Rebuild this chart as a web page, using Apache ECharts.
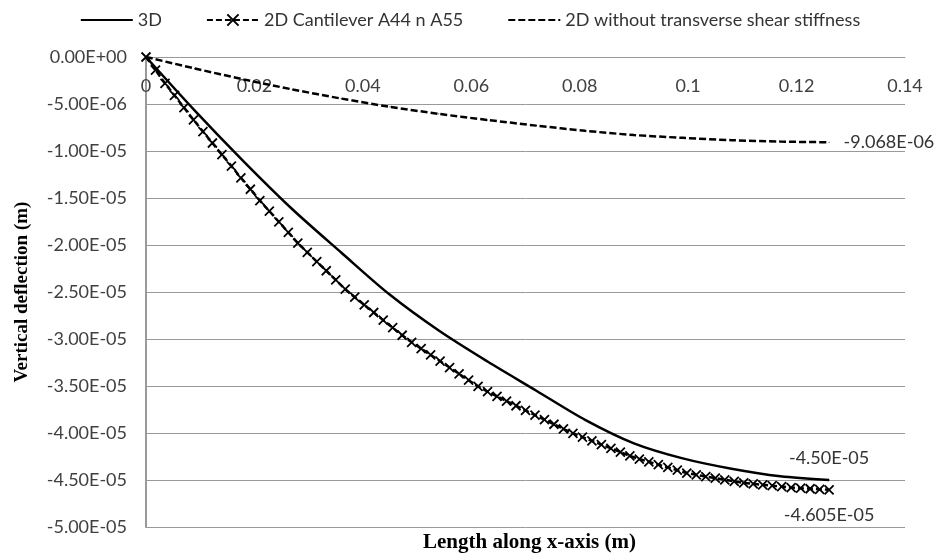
<!DOCTYPE html>
<html>
<head>
<meta charset="utf-8">
<script src="https://cdn.jsdelivr.net/npm/echarts@6/dist/echarts.min.js"></script>
<style>
  html, body { margin: 0; padding: 0; background: #fff; }
  #chart { width: 940px; height: 554px; }
</style>
</head>
<body>
<div id="chart"></div>
<script>
var dom = document.getElementById("chart");
var myChart = echarts.init(dom);

var seriesNames = ['3D', '2D Cantilever A44 n A55', '2D without transverse shear stiffness'];

// 3D model
var x3d = [0, 0.009, 0.018, 0.027, 0.036, 0.045, 0.054, 0.063, 0.072, 0.081, 0.09, 0.099, 0.108, 0.117, 0.126];
var y3d = [0, -5.7e-6, -1.11e-5, -1.62e-5, -2.08e-5, -2.53e-5, -2.91e-5, -3.24e-5, -3.55e-5, -3.86e-5,
           -4.11e-5, -4.27e-5, -4.38e-5, -4.46e-5, -4.50e-5];

// 2D cantilever nodes
var xCant = [0, 0.00175, 0.0035, 0.00525, 0.007, 0.00875, 0.0105, 0.01225, 0.014, 0.01575,
             0.0175, 0.01925, 0.021, 0.02275, 0.0245, 0.02625, 0.028, 0.02975, 0.0315, 0.03325,
             0.035, 0.03675, 0.0385, 0.04025, 0.042, 0.04375, 0.0455, 0.04725, 0.049, 0.05075,
             0.0525, 0.05425, 0.056, 0.05775, 0.0595, 0.06125, 0.063, 0.06475, 0.0665, 0.06825,
             0.07, 0.07175, 0.0735, 0.07525, 0.077, 0.07875, 0.0805, 0.08225, 0.084, 0.08575,
             0.0875, 0.08925, 0.091, 0.09275, 0.0945, 0.09625, 0.098, 0.09975, 0.1015, 0.10325,
             0.105, 0.10675, 0.1085, 0.11025, 0.112, 0.11375, 0.1155, 0.11725, 0.119, 0.12075,
             0.1225, 0.12425, 0.126];
var yCant = [0, -1.40e-6, -2.80e-6, -4.08e-6, -5.38e-6, -6.68e-6, -7.93e-6, -9.15e-6, -1.039e-5, -1.160e-5,
             -1.285e-5, -1.407e-5, -1.527e-5, -1.640e-5, -1.753e-5, -1.866e-5, -1.980e-5, -2.078e-5, -2.176e-5, -2.274e-5,
             -2.372e-5, -2.470e-5, -2.555e-5, -2.637e-5, -2.718e-5, -2.799e-5, -2.880e-5, -2.960e-5, -3.035e-5, -3.102e-5,
             -3.169e-5, -3.236e-5, -3.304e-5, -3.371e-5, -3.438e-5, -3.504e-5, -3.559e-5, -3.610e-5, -3.660e-5, -3.710e-5,
             -3.760e-5, -3.809e-5, -3.858e-5, -3.907e-5, -3.956e-5, -4.003e-5, -4.043e-5, -4.083e-5, -4.123e-5, -4.163e-5,
             -4.203e-5, -4.243e-5, -4.277e-5, -4.307e-5, -4.337e-5, -4.366e-5, -4.396e-5, -4.426e-5, -4.445e-5, -4.463e-5,
             -4.480e-5, -4.498e-5, -4.515e-5, -4.531e-5, -4.541e-5, -4.551e-5, -4.560e-5, -4.570e-5, -4.580e-5, -4.587e-5,
             -4.593e-5, -4.599e-5, -4.605e-5];

// 2D without transverse shear stiffness
var xNoShear = [0, 0.009, 0.018, 0.027, 0.036, 0.045, 0.054, 0.063, 0.072, 0.081, 0.09, 0.099, 0.108, 0.117, 0.126];
var yNoShear = [0, -1.22e-6, -2.38e-6, -3.45e-6, -4.42e-6, -5.30e-6, -6.05e-6, -6.70e-6, -7.30e-6, -7.85e-6,
                -8.30e-6, -8.60e-6, -8.85e-6, -9.00e-6, -9.068e-6];

var xTicks = [0, 0.14, 0.02];      // min, max, step
var yTicks = [-5e-5, 0, 5e-6];

function sci(v, d) {
    var s = Number(v).toExponential(d).split('e');
    var e = parseInt(s[1], 10);
    var a = Math.abs(e);
    return s[0] + 'E' + (e < 0 ? '-' : '+') + (a < 10 ? '0' : '') + a;
}

// last point gets its value written next to it
function pairs(xs, ys, labelPos, digits, dist) {
    return xs.map(function (x, i) {
        if (i === xs.length - 1) {
            return {
                value: [x, ys[i]],
                label: {
                    show: true,
                    position: labelPos,
                    distance: dist,
                    color: '#333',
                    fontFamily: 'Lato',
                    fontSize: 18,
                    formatter: function (p) { return sci(p.value[1], digits); }
                }
            };
        }
        return [x, ys[i]];
    });
}

var font = 'Lato';

option = {
    animation: false,
    backgroundColor: '#fff',
    legend: {
        data: [
            { name: seriesNames[0], itemStyle: { opacity: 0 } },
            { name: seriesNames[1] },
            { name: seriesNames[2], itemStyle: { opacity: 0 } }
        ],
        top: 6,
        left: 'center',
        itemWidth: 52,
        itemHeight: 14,
        itemGap: 44,
        textStyle: { color: '#333', fontFamily: font, fontSize: 18 }
    },
    grid: {
        left: 146,
        right: 35,
        top: 57,
        bottom: 27
    },
    xAxis: {
        type: 'value',
        position: 'top',
        min: xTicks[0],
        max: xTicks[1],
        interval: xTicks[2],
        axisLine: { onZero: false, lineStyle: { color: '#999', width: 1 } },
        axisTick: { show: false },
        splitLine: { show: false },
        axisLabel: {
            inside: true,
            margin: 20,
            color: '#404040',
            fontFamily: font,
            fontSize: 18,
            formatter: function (v) { return String(parseFloat(v.toFixed(2))); }
        }
    },
    yAxis: {
        type: 'value',
        min: yTicks[0],
        max: yTicks[1],
        interval: yTicks[2],
        name: 'Vertical deflection (m)',
        nameLocation: 'middle',
        nameRotate: 90,
        nameGap: 114,
        nameTextStyle: { fontFamily: 'Liberation Serif', fontWeight: 'bold', fontSize: 19, color: '#000' },
        axisLine: { show: true, lineStyle: { color: '#999', width: 2 } },
        axisTick: { show: false },
        splitLine: { show: true, lineStyle: { color: '#999', width: 1 } },
        axisLabel: {
            margin: 19,
            color: '#404040',
            fontFamily: font,
            fontSize: 18,
            formatter: function (v) { return sci(v, 2); }
        }
    },
    graphic: [{
        type: 'text',
        left: 423,
        top: 532,
        style: {
            text: 'Length along x-axis (m)',
            font: 'bold 21px "Liberation Serif"',
            fill: '#000'
        }
    }],
    series: [{
        name: seriesNames[0],
        type: 'line',
        data: pairs(x3d, y3d, 'top', 2, 12),
        smooth: 0.3,
        symbol: 'circle',
        symbolSize: 1,
        itemStyle: { color: '#000' },
        lineStyle: { color: '#000', width: 2.5 },
        z: 3
    }, {
        name: seriesNames[1],
        type: 'line',
        data: pairs(xCant, yCant, 'bottom', 3, 11),
        symbol: 'path://M0,0L10,10M10,0L0,10',
        symbolSize: 9,
        itemStyle: { color: '#000', borderColor: '#000', borderWidth: 1.8 },
        lineStyle: { color: '#000', width: 2.5, type: [6, 3] },
        z: 2
    }, {
        name: seriesNames[2],
        type: 'line',
        data: pairs(xNoShear, yNoShear, 'right', 3, 14),
        smooth: 0.3,
        symbol: 'circle',
        symbolSize: 1,
        itemStyle: { color: '#000' },
        lineStyle: { color: '#000', width: 2.5, type: [7, 3] },
        z: 2
    }]
};
myChart.setOption(option);
window.onresize = myChart.resize;
</script>
</body>
</html>
